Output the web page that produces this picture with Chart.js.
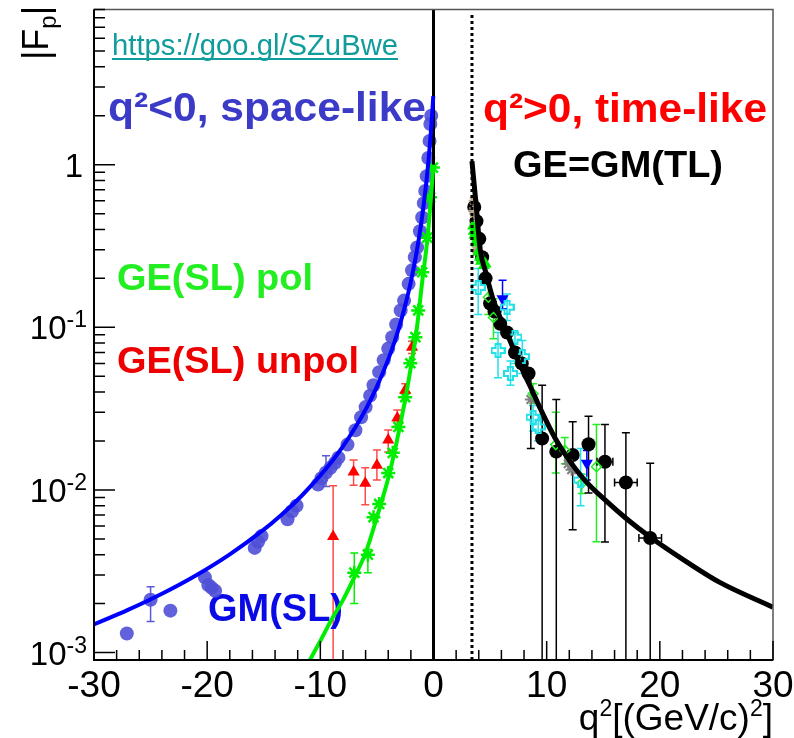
<!DOCTYPE html>
<html>
<head>
<meta charset="utf-8">
<script src="https://cdn.jsdelivr.net/npm/chart.js@4"></script>
<style>
  body { margin: 0; background: #fff; }
  #wrap { width: 794px; height: 738px; }
</style>
</head>
<body>
<div id="wrap"><canvas id="chart"></canvas></div>
<script>
// axis ticks
const xTicks = [-30, -20, -10, 0, 10, 20, 30];
const yTicks = [1, 0.1, 0.01, 0.001];
const yTickBase = ["1", "10", "10", "10"];
const yTickExp = ["", "-1", "-2", "-3"];

// space-like GM fit (blue line)
const gmFitQ2 = [-30, -27, -24, -21, -18, -15, -13.5, -12, -10, -9, -8, -7, -6, -5, -4, -3.5, -3, -2.5, -2, -1.5, -1.25, -1, -0.8, -0.6, -0.45, -0.3, -0.2, -0.1, -0.05, -0.02];
const gmFitF = [0.00149, 0.00183, 0.0023, 0.00298, 0.00402, 0.0057, 0.00697, 0.0087, 0.0123, 0.0149, 0.0185, 0.0237, 0.0312, 0.0432, 0.0635, 0.0793, 0.102, 0.1365, 0.191, 0.288, 0.366, 0.481, 0.617, 0.82, 1.045, 1.38, 1.70, 2.14, 2.43, 2.64];

// space-like GE polarisation fit (green line)
const geFitQ2 = [-11.0, -10, -9, -8, -7, -6, -5, -4, -3.5, -3, -2.5, -2, -1.5, -1, -0.5, -0.25, 0];
const geFitF = [0.00088, 0.00118, 0.0016, 0.0021, 0.0029, 0.0041, 0.0068, 0.0118, 0.0165, 0.024, 0.036, 0.057, 0.095, 0.19, 0.37, 0.6, 1.0];

// time-like fit (black line)
const tlFitQ2 = [3.4, 3.75, 4.13, 4.6, 5.3, 6.5, 7.5, 8.5, 9.5, 10.8, 12, 13.5, 15.3, 17, 19.2, 22.4, 25.3, 30];
const tlFitF = [1.05, 0.58, 0.30, 0.22, 0.146, 0.092, 0.062, 0.044, 0.031, 0.0205, 0.0152, 0.0112, 0.0085, 0.0067, 0.0051, 0.0036, 0.0027, 0.0019];

// reference lines
const zeroLineQ2 = [0, 0];
const zeroLineF = [0.0009, 9];
const thresholdQ2 = [3.4, 3.4];
const thresholdF = [0.0009, 8.4];

// GM space-like data
const gmQ2 = [-27.1, -23.25, -20.2, -19.9, -19.6, -19.3, -15.8, -15.5, -15.2, -12.9, -12.5, -12.1, -10.2, -9.9, -9.1, -8.7, -8.4, -7.6, -6.9, -6.4, -6.0, -5.6, -5.3, -4.8, -4.4, -4.0, -3.65, -3.3, -2.9, -2.6, -2.2, -1.9, -1.65, -1.45, -1.2, -1.0, -0.85, -0.73, -0.6, -0.46, -0.35, -0.28, -0.2];
const gmF = [0.00131, 0.00181, 0.0029, 0.0026, 0.0025, 0.0024, 0.0044, 0.0048, 0.0052, 0.0066, 0.0074, 0.0080, 0.0108, 0.0118, 0.0137, 0.0147, 0.0158, 0.019, 0.0233, 0.028, 0.0323, 0.038, 0.044, 0.053, 0.0628, 0.074, 0.0869, 0.104, 0.127, 0.146, 0.185, 0.224, 0.27, 0.31, 0.39, 0.473, 0.58, 0.69, 0.85, 1.10, 1.4, 1.78, 2.0];
const gmBarQ2 = [-25.0, -9.5];
const gmBarF = [0.00211, 0.0128];
const gmBarHi = [0.00254, 0.0162];
const gmBarLo = [0.00155, 0.0105];

// GE unpolarised (red)
const geuQ2 = [-8.87, -7.06, -6.03, -5.0, -4.0, -3.2, -2.5, -1.9];
const geuF = [0.00517, 0.0129, 0.011, 0.0142, 0.0203, 0.0277, 0.041, 0.0754];
const geuHi = [0.0106, 0.0153, 0.0137, 0.0176, 0.0234, 0.031, 0.045, 0.082];
const geuLo = [0.0001, 0.0107, 0.0081, 0.0115, 0.0171, 0.0246, 0.037, 0.069];

// GE polarisation (green stars)
const gepQ2 = [-5.3, -4.8, -4.0, -3.6, -3.1, -2.5, -2.05, -1.6, -1.35, -1.0, -0.55, -0.3, -0.05];
const gepF = [0.0068, 0.0082, 0.0127, 0.0169, 0.0244, 0.0372, 0.0601, 0.087, 0.127, 0.218, 0.356, 0.63, 0.96];
const gepBarQ2 = [-7.0, -5.8];
const gepBarF = [0.0031, 0.0040];
const gepBarHi = [0.0041, 0.0043];
const gepBarLo = [0.0020, 0.0031];

// time-like: black circles
const tlQ2 = [3.6, 3.8, 4.05, 4.3, 4.6, 5.0, 5.4, 5.9, 6.5, 7.2, 7.8, 8.4];
const tlF = [0.55, 0.45, 0.35, 0.27, 0.2, 0.14, 0.125, 0.105, 0.093, 0.07, 0.06, 0.052];
const tlBarQ2 = [9.6, 10.85, 12.3, 13.7, 15.15, 17.0, 19.15];
const tlBarF = [0.0207, 0.0172, 0.0164, 0.0191, 0.0149, 0.0111, 0.00506];
const tlBarHi = [0.044, 0.036, 0.0263, 0.0284, 0.0253, 0.0225, 0.0146];
const tlBarLo = [0.0001, 0.0001, 0.0057, 0.00956, 0.00478, 0.0001, 0.0001];
const tlBarDx = [0, 0, 0, 0, 0.7, 1.0, 1.0];

// time-like: cyan open crosses
const cyQ2 = [3.95, 5.7, 6.5, 6.8, 7.2, 7.85, 8.8, 9.25, 13.0];
const cyF = [0.176, 0.072, 0.133, 0.052, 0.087, 0.066, 0.028, 0.0244, 0.0115];
const cyHi = [0.23, 0.093, 0.16, 0.062, 0.093, 0.083, 0.033, 0.029, 0.018];
const cyLo = [0.12, 0.049, 0.11, 0.044, 0.06, 0.052, 0.023, 0.02, 0.008];

// time-like: green
const gtQ2 = [4.85, 5.3, 8.8, 10.8, 11.6, 13.1, 14.4];
const gtF = [0.153, 0.115, 0.039, 0.019, 0.0175, 0.011, 0.0139];
const gtHi = [0.2, 0.15, 0.045, 0.030, 0.021, 0.0125, 0.0253];
const gtLo = [0.12, 0.085, 0.034, 0.0127, 0.0145, 0.0095, 0.0048];
const gtriQ2 = [3.5, 3.55, 3.62, 3.7, 3.78, 3.84, 3.95, 4.1, 4.2, 4.3, 4.45, 4.6];
const gtriF = [0.42, 0.39, 0.37, 0.36, 0.34, 0.33, 0.29, 0.27, 0.255, 0.26, 0.24, 0.245];

// time-like: blue
const btQ2 = [6.1, 13.55];
const btF = [0.15, 0.0146];
const btHi = [0.195, 0.0175];
const btLo = [0.13, 0.0115];

// time-like: grey and tan stars
const gsQ2 = [8.6, 11.9, 12.2];
const gsF = [0.036, 0.0145, 0.0133];
const gsHi = [0.052, null, null];
const gsLo = [0.018, null, null];
const tanQ2 = [3.5, 3.55, 3.6, 3.62, 3.7, 3.75];
const tanF = [0.52, 0.6, 0.5, 0.43, 0.36, 0.3];

const FONT = "'Liberation Sans', Arial, Helvetica, sans-serif";

function pts(q, f) {
    return q.map((v, i) => ({ x: v, y: f[i] }));
}

function openCross(color, size) {
    const c = document.createElement("canvas");
    c.width = c.height = size;
    const g = c.getContext("2d");
    const a = size / 3, b = 2 * size / 3, s = size - 1, o = 1;
    g.strokeStyle = color;
    g.lineWidth = 2;
    g.beginPath();
    [[a, o], [b, o], [b, a], [s, a], [s, b], [b, b], [b, s], [a, s], [a, b], [o, b], [o, a], [a, a]]
        .forEach((p, i) => i ? g.lineTo(p[0], p[1]) : g.moveTo(p[0], p[1]));
    g.closePath();
    g.stroke();
    return c;
}

function curve(q, f, color, extra) {
    return Object.assign({
        data: pts(q, f), showLine: true, borderColor: color, borderWidth: 4,
        pointRadius: 0, cubicInterpolationMode: "monotone", order: 0
    }, extra || {});
}

function marks(q, f, style, extra) {
    return Object.assign({ data: pts(q, f), order: 2 }, style, extra || {});
}

// error bars drawn under the markers
const errorBars = {
    id: "errorBars",
    beforeDatasetsDraw(chart) {
        const { ctx, chartArea: a, scales: { x, y } } = chart;
        ctx.save();
        ctx.beginPath();
        ctx.rect(a.left, a.top, a.width, a.height);
        ctx.clip();
        chart.data.datasets.forEach(ds => {
            if (!ds.errHi) return;
            ctx.strokeStyle = ds.errColor || ds.borderColor;
            ctx.lineWidth = 1.5;
            ds.data.forEach((p, i) => {
                const px = x.getPixelForValue(p.x), py = y.getPixelForValue(p.y);
                const hi = ds.errHi[i], lo = ds.errLo[i];
                ctx.beginPath();
                if (hi != null) {
                    const yh = y.getPixelForValue(hi), yl = y.getPixelForValue(lo);
                    ctx.moveTo(px, yh); ctx.lineTo(px, yl);
                    ctx.moveTo(px - 4, yh); ctx.lineTo(px + 4, yh);
                    ctx.moveTo(px - 4, yl); ctx.lineTo(px + 4, yl);
                }
                if (ds.errDx && ds.errDx[i]) {
                    const xl = x.getPixelForValue(p.x - ds.errDx[i]), xr = x.getPixelForValue(p.x + ds.errDx[i]);
                    ctx.moveTo(xl, py); ctx.lineTo(xr, py);
                    ctx.moveTo(xl, py - 4); ctx.lineTo(xl, py + 4);
                    ctx.moveTo(xr, py - 4); ctx.lineTo(xr, py + 4);
                }
                ctx.stroke();
            });
        });
        ctx.restore();
    }
};

function fitText(ctx, s, x, y, font, color, w) {
    ctx.font = font;
    ctx.fillStyle = color;
    const m = ctx.measureText(s).width;
    ctx.save();
    ctx.translate(x, y);
    ctx.scale(w / m, 1);
    ctx.fillText(s, 0, 0);
    ctx.restore();
}

// texts, frame, ticks and labels
const deco = {
    id: "deco",
    beforeDatasetsDraw(chart) {
        const ctx = chart.ctx;
        ctx.save();
        ctx.textBaseline = "alphabetic";
        fitText(ctx, "https://goo.gl/SZuBwe", 112, 55, "29px " + FONT, "#119c9c", 286);
        ctx.fillRect(112, 58, 286, 2);
        fitText(ctx, "q²<0, space-like", 108, 121, "bold 40px " + FONT, "#3b3bc8", 318);
        fitText(ctx, "q²>0, time-like", 483, 122, "bold 40px " + FONT, "#ff0000", 284);
        fitText(ctx, "GE=GM(TL)", 513, 177, "bold 37px " + FONT, "#000000", 210);
        fitText(ctx, "GE(SL) pol", 117, 290, "bold 37px " + FONT, "#22ee22", 196);
        fitText(ctx, "GE(SL) unpol", 117, 373, "bold 37px " + FONT, "#ee0000", 242);
        fitText(ctx, "GM(SL)", 208, 621, "bold 38px " + FONT, "#0a0ae6", 135);
        ctx.restore();
    },
    afterDatasetsDraw(chart) {
        const { ctx, chartArea: a, scales: { x, y } } = chart;
        ctx.save();
        // frame
        ctx.strokeStyle = "#555";
        ctx.lineWidth = 1.5;
        ctx.strokeRect(a.left, a.top, a.width, a.height);
        ctx.strokeStyle = "#000";
        ctx.lineWidth = 2;
        ctx.beginPath();
        ctx.moveTo(a.left, a.top); ctx.lineTo(a.left, a.bottom); ctx.lineTo(a.right, a.bottom);
        ctx.stroke();

        // y ticks
        ctx.lineWidth = 1.5;
        ctx.beginPath();
        for (let d = -4; d <= 0; d++) {
            for (let k = 1; k <= 9; k++) {
                const v = k * Math.pow(10, d);
                if (v < y.min || v > y.max) continue;
                const py = y.getPixelForValue(v);
                ctx.moveTo(a.left, py);
                ctx.lineTo(a.left + (k === 1 ? 21 : 11), py);
            }
        }
        // x ticks
        for (let q = -30; q <= 30; q += 2) {
            const px = x.getPixelForValue(q);
            ctx.moveTo(px, a.bottom);
            ctx.lineTo(px, a.bottom - (q % 10 === 0 ? 19 : 10));
        }
        ctx.stroke();

        // tick labels
        ctx.fillStyle = "#000";
        ctx.textBaseline = "alphabetic";
        ctx.textAlign = "center";
        ctx.font = "37px " + FONT;
        xTicks.forEach(q => ctx.fillText(String(q), x.getPixelForValue(q), 697));
        ctx.textAlign = "left";
        yTicks.forEach((v, i) => {
            const py = y.getPixelForValue(v) + 12;
            ctx.font = "23px " + FONT;
            const we = ctx.measureText(yTickExp[i]).width;
            ctx.font = "33px " + FONT;
            const wb = ctx.measureText(yTickBase[i]).width;
            const right = i === 0 ? 83 : 87;
            ctx.fillText(yTickBase[i], right - we - wb, py);
            ctx.font = "23px " + FONT;
            ctx.fillText(yTickExp[i], right - we, py - 12);
        });

        // x title
        const parts = [["q", 37, 0], ["2", 23, -14], ["[(GeV/c)", 37, 0], ["2", 23, -14], ["]", 37, 0]];
        let w = 0;
        parts.forEach(p => { ctx.font = p[1] + "px " + FONT; w += ctx.measureText(p[0]).width; });
        let cx = 773 - w;
        parts.forEach(p => {
            ctx.font = p[1] + "px " + FONT;
            ctx.fillText(p[0], cx, 730 + p[2]);
            cx += ctx.measureText(p[0]).width;
        });

        // y title |F_p|
        ctx.translate(48, 60);
        ctx.rotate(-Math.PI / 2);
        const yp = [["|F", 36, 0], ["p", 24, 8], ["|", 36, 0]];
        let t = 0;
        yp.forEach(p => {
            ctx.font = p[1] + "px " + FONT;
            ctx.fillText(p[0], t, p[2]);
            t += ctx.measureText(p[0]).width;
        });
        ctx.restore();
    }
};

const blueDot = { pointStyle: "circle", pointRadius: 7, backgroundColor: "rgba(80,80,215,0.9)", borderWidth: 0, borderColor: "rgba(80,80,215,0.9)" };
const blackDot = { pointStyle: "circle", pointRadius: 7, backgroundColor: "#000", borderWidth: 0, borderColor: "#000" };
const crossImg = openCross("#22e0e8", 15);

new Chart(document.getElementById("chart"), {
    type: "scatter",
    data: {
        datasets: [
            curve(gmFitQ2, gmFitF, "#0000ff"),
            curve(geFitQ2, geFitF, "#00ee00"),
            curve(tlFitQ2, tlFitF, "#000000", { borderWidth: 5 }),
            curve(zeroLineQ2, zeroLineF, "#000000", { borderWidth: 3, cubicInterpolationMode: "default" }),
            curve(thresholdQ2, thresholdF, "#000000", { borderWidth: 3, borderDash: [3, 3], cubicInterpolationMode: "default" }),

            marks(gmQ2, gmF, blueDot),
            marks(gmBarQ2, gmBarF, blueDot, { errHi: gmBarHi, errLo: gmBarLo, errColor: "#5a5ad8" }),
            marks(geuQ2, geuF, { pointStyle: "triangle", pointRadius: 7, backgroundColor: "#ff0000", borderColor: "#ff0000", borderWidth: 0 },
                { errHi: geuHi, errLo: geuLo, errColor: "#ff4a4a", order: 1 }),
            marks(gepQ2, gepF, { pointStyle: "star", pointRadius: 7, borderColor: "#00ee00", borderWidth: 2.5 }, { order: 1 }),
            marks(gepBarQ2, gepBarF, { pointStyle: "star", pointRadius: 7, borderColor: "#00ee00", borderWidth: 2.5 },
                { errHi: gepBarHi, errLo: gepBarLo, order: 1 }),

            marks(tanQ2, tanF, { pointStyle: "star", pointRadius: 5, borderColor: "#b8a68e", borderWidth: 2 }, { order: 3 }),
            marks(gtriQ2, gtriF, { pointStyle: "triangle", pointRadius: 7, backgroundColor: "#00ee00", borderColor: "#00ee00", borderWidth: 0 }, { order: 1 }),
            marks(cyQ2, cyF, { pointStyle: crossImg, borderColor: "#22e0e8" }, { errHi: cyHi, errLo: cyLo }),
            marks(gtQ2, gtF, { pointStyle: "rectRot", pointRadius: 5, backgroundColor: "rgba(0,0,0,0)", borderColor: "#22ee22", borderWidth: 1.5 },
                { errHi: gtHi, errLo: gtLo }),
            marks(btQ2, btF, { pointStyle: "triangle", rotation: 180, pointRadius: 7, backgroundColor: "#0000ff", borderColor: "#0000ff", borderWidth: 0 },
                { errHi: btHi, errLo: btLo }),
            marks(gsQ2, gsF, { pointStyle: "star", pointRadius: 6, borderColor: "#808080", borderWidth: 2 },
                { errHi: gsHi, errLo: gsLo, errColor: "#000" }),
            marks(tlQ2, tlF, blackDot, { order: 3 }),
            marks(tlBarQ2, tlBarF, blackDot, { errHi: tlBarHi, errLo: tlBarLo, errDx: tlBarDx, errColor: "#000" })
        ]
    },
    options: {
        responsive: true,
        maintainAspectRatio: false,
        animation: false,
        events: [],
        layout: { padding: { left: 94, right: 21, top: 8, bottom: 78 } },
        scales: {
            x: { type: "linear", min: -30, max: 30, display: false },
            y: { type: "logarithmic", min: 0.0009, max: 9, display: false }
        },
        plugins: {
            legend: { display: false },
            tooltip: { enabled: false }
        }
    },
    plugins: [errorBars, deco]
});
</script>
</body>
</html>
